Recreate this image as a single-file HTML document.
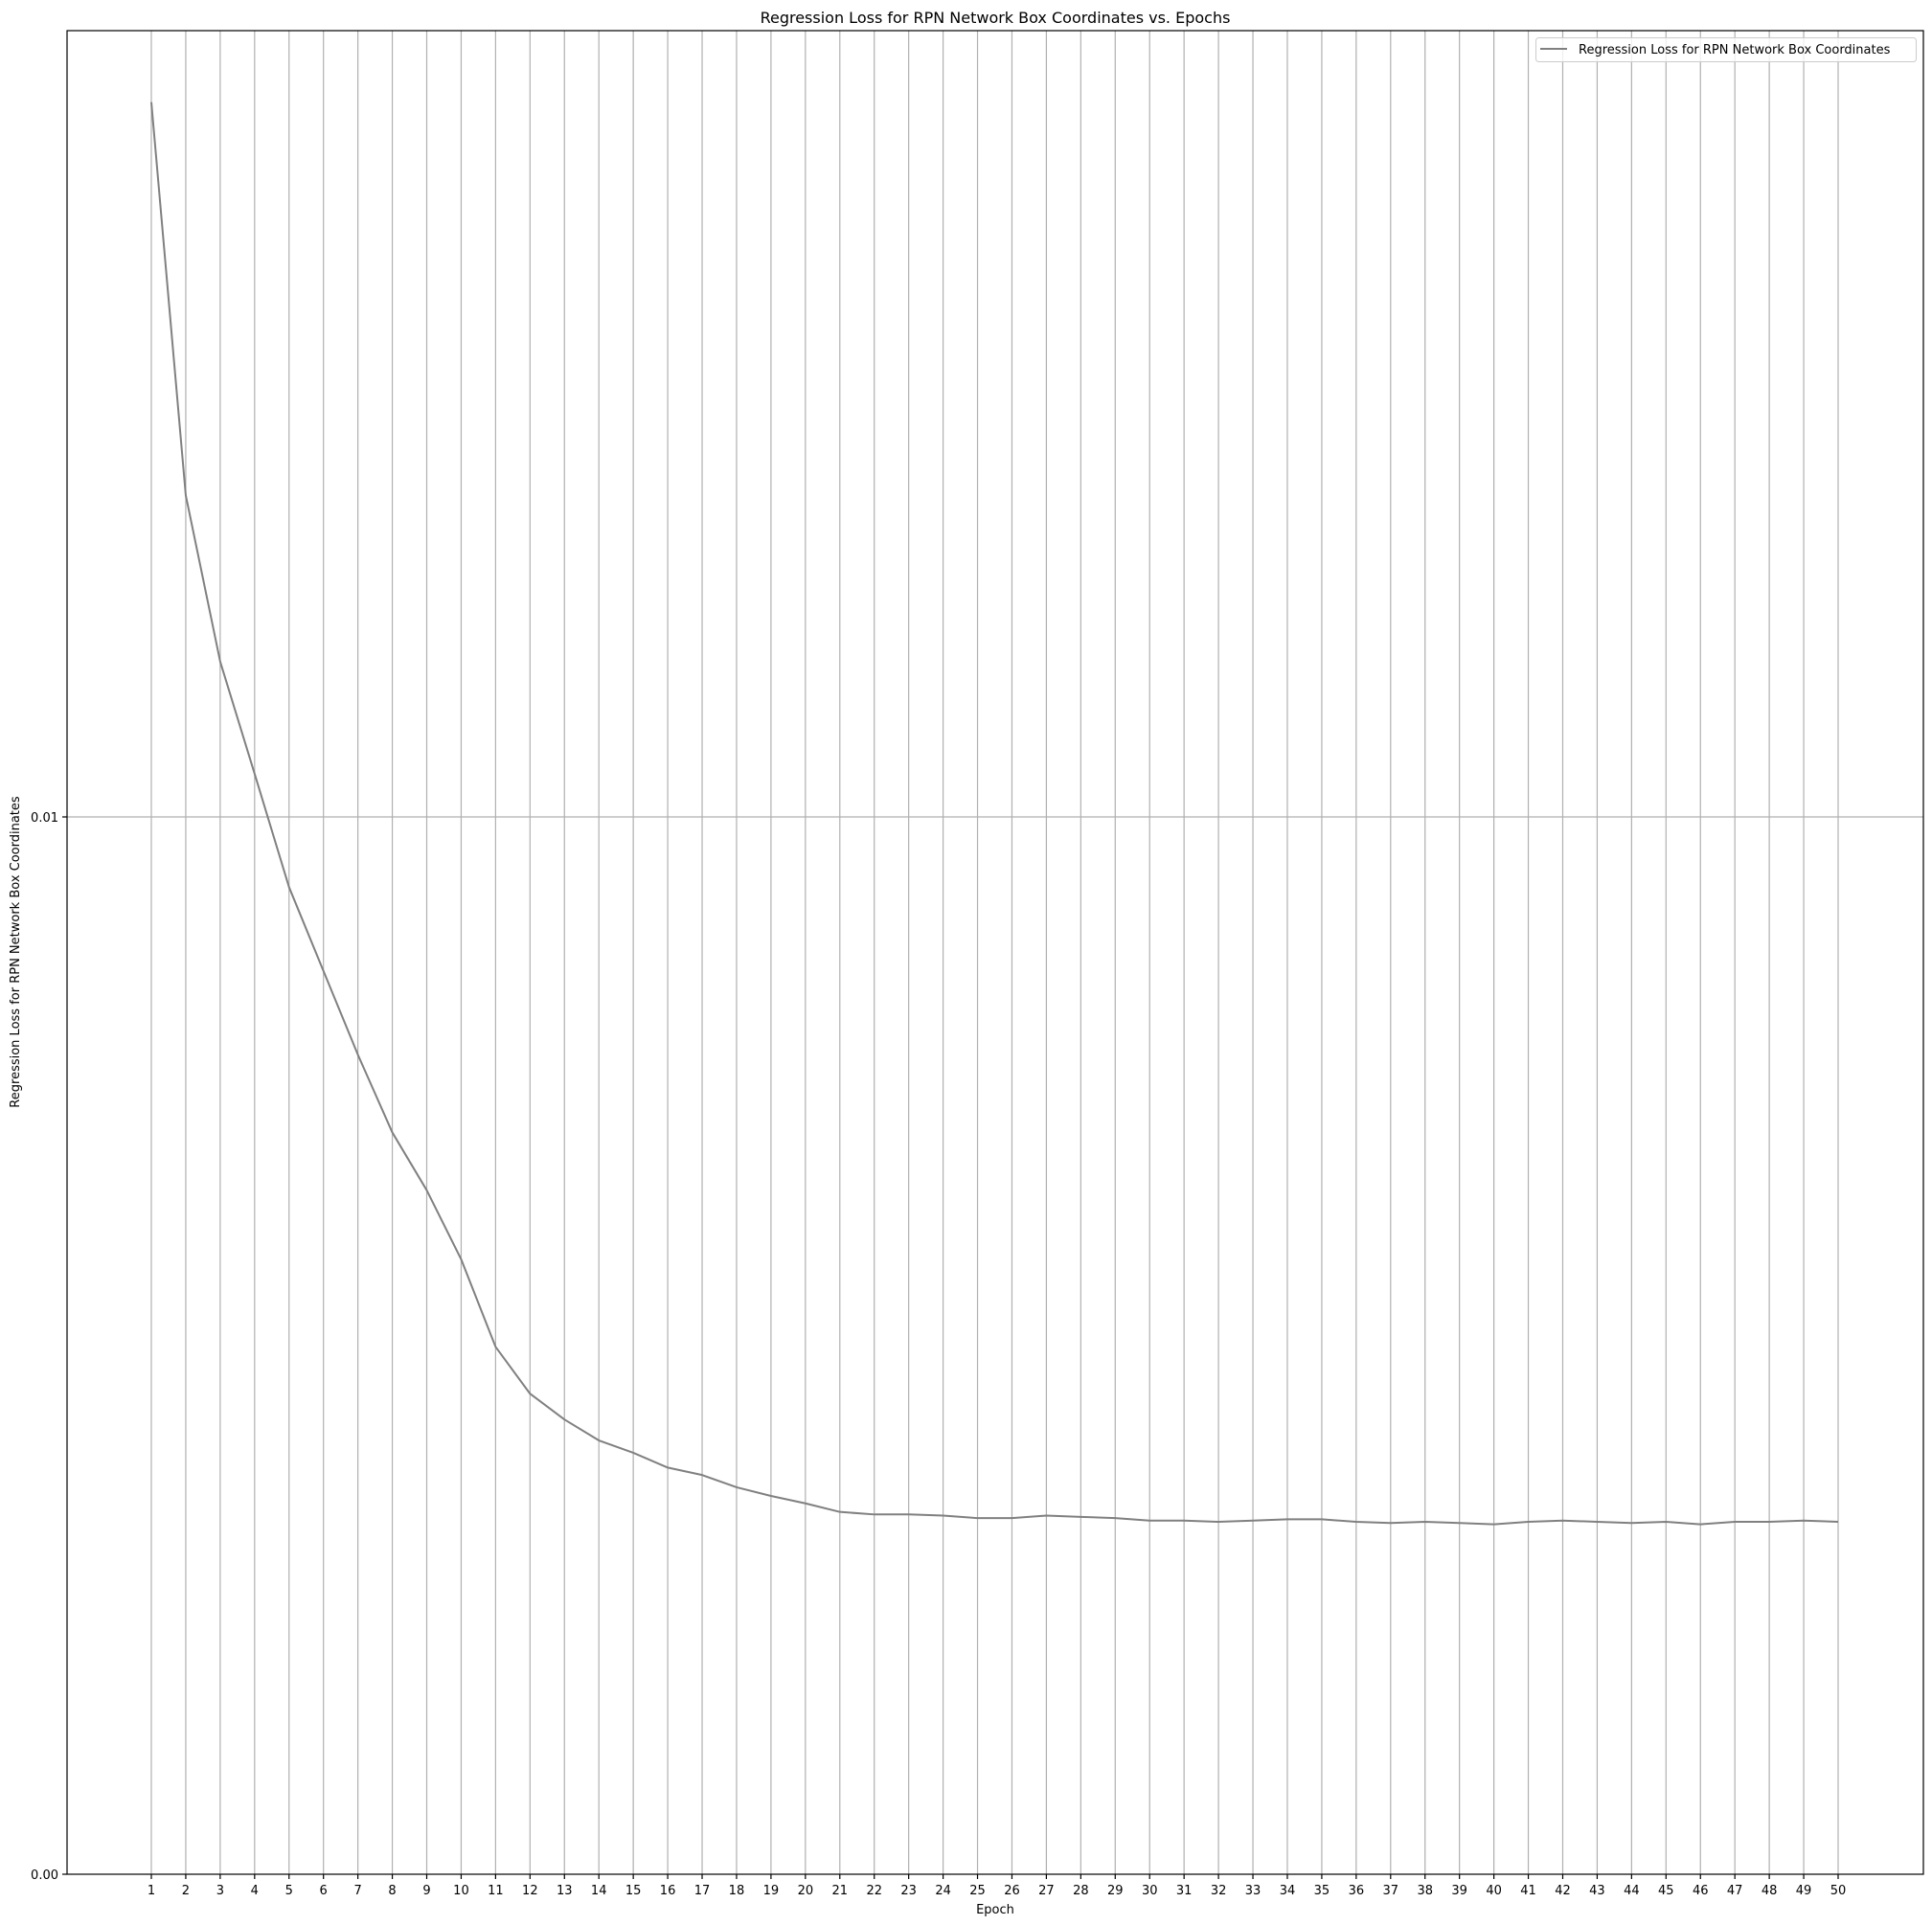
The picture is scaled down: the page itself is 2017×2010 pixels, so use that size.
<!DOCTYPE html>
<html><head><meta charset="utf-8"><style>
html,body{margin:0;padding:0;background:#fff;}
svg{display:block;font-family:"DejaVu Sans","Liberation Sans",sans-serif;}
</style></head><body>
<svg id="chart" width="2017" height="2010" viewBox="0 0 2017 2010" xmlns="http://www.w3.org/2000/svg">
<rect width="2017" height="2010" fill="#fff"/>
<g id="grid"></g>
<g id="series"></g>
<g id="axes"></g>
<text x="1039" y="24" font-size="16" text-anchor="middle">Regression Loss for RPN Network Box Coordinates vs. Epochs</text>
<text x="1039" y="1998" font-size="13" text-anchor="middle">Epoch</text>
<text transform="translate(20,994) rotate(-90)" font-size="13" text-anchor="middle">Regression Loss for RPN Network Box Coordinates</text>
<g>
<rect x="1603.5" y="39.5" width="397" height="25" rx="3" fill="#fff" fill-opacity="0.8" stroke="#ccc"/>
<line x1="1608" y1="51" x2="1636" y2="51" stroke="#808080" stroke-width="2"/>
<text x="1648" y="56" font-size="13">Regression Loss for RPN Network Box Coordinates</text>
</g>
</svg>
<script>
const epochs = [1,2,3,4,5,6,7,8,9,10,11,12,13,14,15,16,17,18,19,20,21,22,23,24,25,26,27,28,29,30,31,32,33,34,35,36,37,38,39,40,41,42,43,44,45,46,47,48,49,50];
const lossValues = [0.016760,0.013042,0.011469,0.010408,0.009336,0.008543,0.007751,0.007016,0.006469,0.005816,0.004988,0.004545,0.004301,0.004103,0.003986,0.003846,0.003776,0.003660,0.003578,0.003508,0.003427,0.003403,0.003403,0.003392,0.003368,0.003368,0.003392,0.003380,0.003368,0.003345,0.003345,0.003333,0.003345,0.003357,0.003357,0.003333,0.003322,0.003333,0.003322,0.003310,0.003333,0.003345,0.003333,0.003322,0.003333,0.003310,0.003333,0.003333,0.003345,0.003333];
const yTickValues = [0, 0.01];
const yTickLabels = ["0.00", "0.01"];

const NS = "http://www.w3.org/2000/svg";
const L = 70, R = 2008, T = 32, B = 1957;
const X1 = 158, X50 = 1919;
const yMax = 0.01 * (B - T) / (B - 853);
function xs(e){ return X1 + (e - 1) * (X50 - X1) / 49; }
function ys(v){ return B - v / yMax * (B - T); }
function mk(tag, attrs, parent){
  const el = document.createElementNS(NS, tag);
  for (const k in attrs) el.setAttribute(k, attrs[k]);
  parent.appendChild(el);
  return el;
}
const grid = document.getElementById('grid');
const axes = document.getElementById('axes');
const series = document.getElementById('series');

epochs.forEach(e => {
  const x = xs(e);
  const g = mk('line', {x1:x, y1:T, x2:x, y2:B, stroke:'#b0b0b0', 'stroke-width':1.2}, grid);
  
  
  const t = mk('line', {x1:x, y1:B, x2:x, y2:B+5, stroke:'#000', 'stroke-width':1.2}, axes);
  
  
  const lb = mk('text', {x:x, y:B+21, 'font-size':13, 'text-anchor':'middle'}, axes);
  lb.textContent = String(e);
  
  
});
yTickValues.forEach((v, i) => {
  const y = ys(v);
  if (v > 0) {
    const g = mk('line', {x1:L, y1:y, x2:R, y2:y, stroke:'#b0b0b0', 'stroke-width':1.2}, grid);
    
    
  }
  const t = mk('line', {x1:L-5, y1:y, x2:L, y2:y, stroke:'#000', 'stroke-width':1.2}, axes);
  
  
  const lb = mk('text', {x:L-9, y:y+5, 'font-size':13, 'text-anchor':'end'}, axes);
  lb.textContent = yTickLabels[i];
  
  
});
const frame = mk('rect', {x:L, y:T, width:R-L, height:B-T, fill:'none', stroke:'#000', 'stroke-width':1.2}, axes);



const pts = epochs.map((e, i) => xs(e).toFixed(2) + ',' + ys(lossValues[i]).toFixed(2)).join(' ');
const line = mk('polyline', {points:pts, fill:'none', stroke:'#808080', 'stroke-width':2, 'stroke-linejoin':'round'}, series);


</script>
</body></html>
